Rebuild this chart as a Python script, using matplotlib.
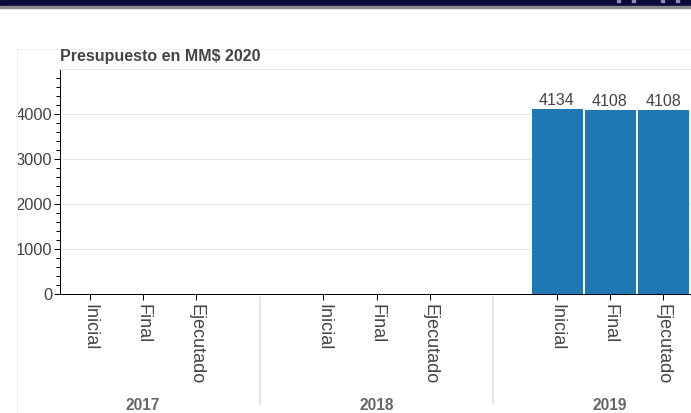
import matplotlib
matplotlib.use("Agg")
import matplotlib.pyplot as plt
from matplotlib.patches import Rectangle
from matplotlib.lines import Line2D
from matplotlib.ticker import MultipleLocator

YEARS = ["2017", "2018", "2019"]
STAGES = ["Inicial", "Final", "Ejecutado"]
# presupuesto en MM$ 2020 ; None = sin dato para ese año
BUDGET = {
    "2017": [None, None, None],
    "2018": [None, None, None],
    "2019": [4134, 4108, 4108],
}
TITLE = "Presupuesto en MM$ 2020"

GROUP_PAD = 1.4  # gap between year groups, in category units (bokeh-ish)
W, H = 691, 413
PX = 0.72  # points per pixel at dpi=100

plt.rcParams["font.family"] = ["Liberation Sans", "DejaVu Sans"]

fig = plt.figure(figsize=(W / 100, H / 100), dpi=100)


def fy(py):
    return 1 - py / H


# dark banner on top of the page + thin grey strip
fig.patches.append(Rectangle((0, fy(6)), 1, 6 / H, transform=fig.transFigure,
                             color="#0b0b3b", zorder=0))
fig.patches.append(Rectangle((0, fy(7.5)), 1, 1.5 / H, transform=fig.transFigure,
                             color="#8a8a8a", zorder=0))
for bx in [617, 632, 661, 676]:
    fig.patches.append(Rectangle((bx / W, fy(2)), 3 / W, 2 / H, transform=fig.transFigure,
                                 color="#8e8eaa", zorder=1))

# faint outer box of the plot panel
fig.lines.append(Line2D([16.5 / W, 16.5 / W], [fy(49), 0], transform=fig.transFigure,
                        color="#efefef", lw=1 * PX))
fig.lines.append(Line2D([16.5 / W, 1], [fy(49), fy(49)], transform=fig.transFigure,
                        color="#efefef", lw=1 * PX))

ax = fig.add_axes([60 / W, (H - 294) / H, (W - 60) / W, 225 / H])

xs, labels, centers, seps = [], [], [], []
for g, year in enumerate(YEARS):
    base = g * (len(STAGES) + GROUP_PAD)
    gx = [base + i + 0.5 for i in range(len(STAGES))]
    xs += gx
    labels += STAGES
    centers.append(gx[len(gx) // 2])
    if g > 0:
        seps.append(base - GROUP_PAD / 2)
    for x, v in zip(gx, BUDGET[year]):
        if v is None:
            continue
        ax.bar(x, v, width=0.97, color="#1f77b4", edgecolor="white", linewidth=1 * PX, zorder=2)
        ax.annotate(str(v), (x, v), xytext=(0, 3 * PX), textcoords="offset points",
                    ha="center", va="baseline", fontsize=16 * PX, color="#444444")

ax.set_xlim(-0.065, 11.827)
ax.set_ylim(0, 4990)

ax.set_xticks(xs, labels, rotation=-90)
ax.tick_params(axis="x", length=6 * PX, width=1 * PX, pad=4 * PX,
               labelsize=18 * PX, labelcolor="#444444")
ax.yaxis.set_major_locator(MultipleLocator(1000))
ax.yaxis.set_minor_locator(MultipleLocator(200))
ax.tick_params(axis="y", which="major", length=6 * PX, width=1 * PX, pad=2 * PX,
               labelsize=16.5 * PX, labelcolor="#444444")
ax.tick_params(axis="y", which="minor", length=4 * PX, width=1 * PX)

ax.yaxis.grid(True, color="#e5e5e5", lw=1 * PX)
ax.set_axisbelow(True)
for side in ["left", "bottom"]:
    ax.spines[side].set_linewidth(1 * PX)
    ax.spines[side].set_color("black")
ax.spines["top"].set_color("#e5e5e5")
ax.spines["top"].set_linewidth(1 * PX)
ax.spines["right"].set_visible(False)

# year group labels and separators below the axis
for cx, year in zip(centers, YEARS):
    ax.annotate(year, xy=(cx, 0), xycoords=("data", "axes fraction"),
                xytext=(0, -(410 - 294) * PX), textcoords="offset points",
                ha="center", va="baseline", fontsize=15.5 * PX, weight="bold",
                color="#666666", annotation_clip=False)
for sx in seps:
    ax.plot([sx, sx], [-3 / 225, -110 / 225], transform=ax.get_xaxis_transform(),
            color="#dddddd", lw=1.5 * PX, clip_on=False)

fig.text(60 / W, fy(61), TITLE, ha="left", va="baseline", fontsize=16 * PX,
         weight="bold", color="#444444")

fig.savefig("out.png", dpi=100)
